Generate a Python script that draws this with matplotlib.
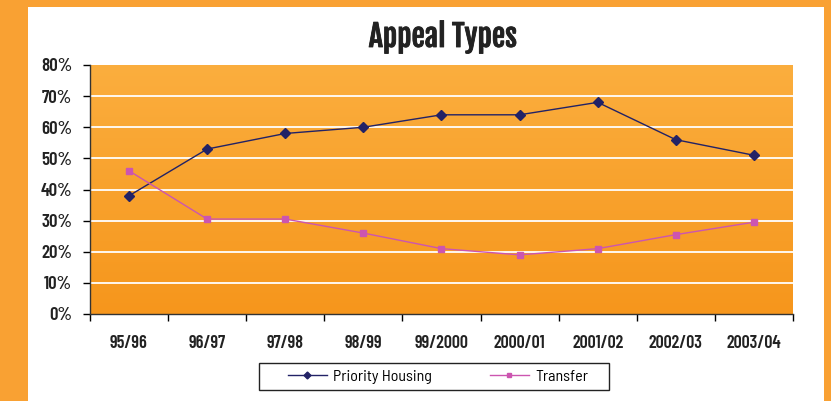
import numpy as np
import matplotlib.pyplot as plt
import matplotlib.patheffects as pe
from matplotlib.colors import LinearSegmentedColormap

# data
years = ['95/96', '96/97', '97/98', '98/99', '99/2000', '2000/01', '2001/02', '2002/03', '2003/04']
priority_housing = [38, 53, 58, 60, 64, 64, 68, 56, 51]
transfer = [46, 30.5, 30.5, 26, 21, 19, 21, 25.5, 29.5]

narrow = ['Barlow Condensed', 'DejaVu Sans']
semi = ['Barlow Semi Condensed', 'DejaVu Sans']
title_font = ['Fjalla One', 'Barlow Condensed', 'DejaVu Sans']

W, H = 831, 401
fig = plt.figure(figsize=(W / 100, H / 100), dpi=100)
fig.patch.set_facecolor('#f9a133')

# white panel inside the orange frame
panel = plt.Rectangle((28 / W, 0), (824 - 28) / W, 1 - 7 / H,
                      transform=fig.transFigure, facecolor='white', edgecolor='none', zorder=0)
fig.patches.append(panel)

ax = fig.add_axes([90 / W, 1 - 314 / H, (793 - 90) / W, (314 - 65) / H])
ax.set_zorder(1)

x = np.arange(len(years))
ax.set_xlim(-0.5, len(years) - 0.5)
ax.set_ylim(0, 80)

# orange gradient background
grad = LinearSegmentedColormap.from_list('bg', ['#f6961c', '#fbae3e'])
ax.imshow(np.linspace(0, 1, 256).reshape(-1, 1), cmap=grad, origin='lower', aspect='auto',
          extent=(-0.5, len(years) - 0.5, 0, 80), zorder=0)

for v in range(10, 80, 10):
    ax.axhline(v, color='white', lw=1.3, zorder=1)

ax.plot(x, priority_housing, color='#222266', lw=1, marker='D', ms=5, label='Priority Housing', zorder=3)
ax.plot(x, transfer, color='#cc55b0', lw=1, marker='s', ms=5, label='Transfer', zorder=3)

ax.set_yticks(range(0, 81, 10))
ax.set_yticklabels([f'{v}%' for v in range(0, 81, 10)], family=narrow, fontweight=600, fontsize=13.5,
                   color='#222222')
ax.set_xticks(x)
ax.set_xticklabels(years, family=narrow, fontweight=600, fontsize=13, color='#222222')
ax.set_xticks(np.arange(-0.5, len(years)), minor=True)
ax.tick_params(axis='x', which='major', length=0, pad=15)
ax.tick_params(axis='x', which='minor', length=5, width=1, direction='out')
ax.tick_params(axis='y', length=5, width=1, direction='out', pad=8)

for s in ['top', 'right']:
    ax.spines[s].set_visible(False)
for s in ['left', 'bottom']:
    ax.spines[s].set_color('#333333')
    ax.spines[s].set_linewidth(1)

# heavy condensed title: thicken the strokes a little
fig.text(443 / W, 1 - 37 / H, 'Appeal Types', ha='center', va='center',
         family=title_font, fontsize=21.5, color='#222222',
         path_effects=[pe.withStroke(linewidth=0.6, foreground='#222222')])

# legend box drawn separately to get the wide Excel-style frame
box = plt.Rectangle((259 / W, 1 - 390 / H), (609 - 259) / W, (390 - 363) / H,
                    transform=fig.transFigure, facecolor='white', edgecolor='#222222', lw=1, zorder=2)
fig.patches.append(box)
leg = fig.legend(loc='center', bbox_to_anchor=(438 / W, 1 - 376.5 / H), ncol=2,
                 prop={'family': semi, 'size': 11.5}, frameon=False,
                 columnspacing=3.6, handlelength=2.45, handletextpad=0.4, markerscale=0.7)

fig.savefig('out.png', dpi=100)
